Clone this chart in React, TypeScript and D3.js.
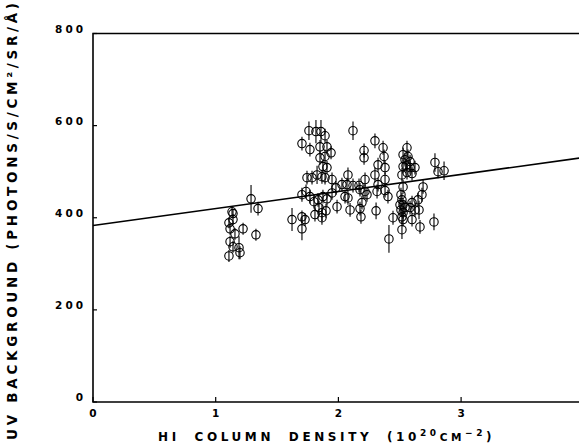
import React, { useEffect, useRef } from 'react';
import * as d3 from 'd3';

// HI column density (10^20 cm^-2)
const hiDensity = [
  1.288, 1.345, 1.133, 1.141, 1.141, 1.108, 1.117, 1.157, 1.223, 1.328, 1.117, 1.141, 1.19, 1.198, 1.108,
  1.622, 1.703, 1.728, 1.703, 1.703, 1.76, 1.817, 1.858, 1.891, 2.119, 1.768, 1.85, 1.907, 1.94, 1.85,
  1.891, 1.874, 1.907, 2.209, 2.209, 2.298, 2.364, 2.372, 2.323, 2.38, 2.078, 1.744, 1.785, 1.826, 1.866,
  1.891, 1.948, 2.029, 2.07, 2.119, 2.168, 2.217, 2.298, 2.38, 2.323, 1.703, 1.736, 1.768, 1.801, 1.834,
  1.874, 1.907, 1.948, 1.98, 2.054, 2.078, 2.192, 2.217, 2.233, 2.315, 2.38, 2.404, 1.842, 1.866, 1.899,
  1.809, 1.866, 1.989, 2.095, 2.176, 2.184, 2.307,
  2.559, 2.527, 2.567, 2.543, 2.584, 2.551, 2.584, 2.527, 2.624, 2.518, 2.559, 2.6, 2.787, 2.812, 2.861,
  2.527, 2.51, 2.518, 2.527, 2.51, 2.527, 2.518, 2.527, 2.502, 2.543, 2.518, 2.6, 2.584, 2.624, 2.657,
  2.69, 2.681, 2.649, 2.445, 2.6, 2.665, 2.779, 2.412, 2.176,
];

// UV background (photons/s/cm2/sr/A)
const uvBackground = [
  441, 420, 413, 409, 396, 389, 376, 365, 376, 363, 348, 337, 335, 324, 317,
  396, 402, 396, 376, 561, 589, 587, 587, 578, 589, 548, 554, 554, 541, 530,
  533, 511, 509, 546, 530, 567, 552, 533, 515, 509, 493, 487, 487, 493, 489,
  487, 483, 472, 472, 470, 470, 483, 493, 483, 472, 450, 457, 446, 435, 439,
  446, 441, 454, 465, 446, 443, 433, 457, 450, 457, 459, 446, 422, 411, 415,
  407, 400, 424, 417, 420, 402, 415,
  552, 537, 533, 526, 522, 513, 509, 511, 509, 493, 498, 496, 520, 500, 502,
  467, 450, 439, 428, 417, 411, 402, 396, 428, 422, 374, 433, 422, 417, 417,
  467, 450, 439, 400, 396, 380, 391, 354, 461,
];

// half-length of each error bar, same units
const uvError = [
  30, 15, 10, 10, 12, 12, 13, 13, 13, 13, 13, 13, 25, 14, 13,
  25, 14, 14, 25, 15, 20, 25, 25, 15, 20, 15, 15, 15, 14, 15,
  15, 14, 14, 15, 15, 16, 15, 15, 15, 15, 16, 15, 15, 20, 15,
  15, 15, 15, 15, 15, 15, 15, 16, 15, 15, 15, 15, 15, 15, 15,
  15, 15, 15, 15, 15, 15, 15, 15, 15, 15, 15, 15, 15, 18, 15,
  15, 15, 15, 15, 15, 15, 18,
  15, 15, 15, 15, 15, 15, 15, 15, 15, 15, 15, 15, 20, 14, 20,
  15, 15, 15, 15, 15, 15, 15, 15, 15, 15, 20, 15, 15, 15, 20,
  15, 15, 15, 15, 15, 15, 18, 30, 15,
];

const xTicks = [0, 1, 2, 3, 4];
const yTicks = [0, 200, 400, 600, 800];

// least squares fit drawn across the plot
const fitIntercept = 383;
const fitSlope = 37;

const App = () => {
  const svgRef = useRef<SVGSVGElement>(null);
  const width = 579;
  const height = 444;

  useEffect(() => {
    const svg = d3.select(svgRef.current);
    svg.selectAll('*').remove();

    const left = 93;
    const top = 33.5;
    const bottom = 402;

    const x = d3.scaleLinear().domain([0, 4]).range([left, left + 4 * 122.7]);
    const y = d3.scaleLinear().domain([0, 800]).range([bottom, top]);

    const font = "'DejaVu Sans', sans-serif";

    // frame: left, bottom, top
    svg.append('path')
      .attr('d', `M${x(4)},${y(800)}H${x(0)}V${y(0)}H${x(4)}`)
      .attr('fill', 'none')
      .attr('stroke', '#000')
      .attr('stroke-width', 1.6);

    // ticks point inward
    svg.selectAll('.xtick')
      .data(xTicks)
      .enter()
      .append('line')
      .attr('x1', d => x(d))
      .attr('x2', d => x(d))
      .attr('y1', y(0))
      .attr('y2', y(0) - 5)
      .attr('stroke', '#000')
      .attr('stroke-width', 1.2);

    svg.selectAll('.ytick')
      .data(yTicks)
      .enter()
      .append('line')
      .attr('x1', x(0))
      .attr('x2', x(0) + 4)
      .attr('y1', d => y(d))
      .attr('y2', d => y(d))
      .attr('stroke', '#000')
      .attr('stroke-width', 1.2);

    svg.selectAll('.xlab')
      .data(xTicks.slice(0, 4))
      .enter()
      .append('text')
      .attr('x', d => x(d))
      .attr('y', y(0) + 15)
      .attr('text-anchor', 'middle')
      .attr('font-family', font)
      .attr('font-weight', 'bold')
      .attr('font-size', 10.5)
      .text(d => d);

    svg.selectAll('.ylab')
      .data(yTicks)
      .enter()
      .append('text')
      .attr('x', x(0) - 7)
      .attr('y', d => y(d) - 1)
      .attr('text-anchor', 'end')
      .attr('font-family', font)
      .attr('font-weight', 'bold')
      .attr('font-size', 10.5)
      .attr('letter-spacing', 3)
      .text(d => d);

    // fit line
    const fit = d3.line<number>()
      .x(d => x(d))
      .y(d => y(fitIntercept + fitSlope * d));
    svg.append('path')
      .datum([0, 4])
      .attr('d', fit)
      .attr('fill', 'none')
      .attr('stroke', '#000')
      .attr('stroke-width', 1.6);

    const pts = hiDensity.map((h, i) => ({ h, uv: uvBackground[i], e: uvError[i] }));
    const g = svg.append('g');

    g.selectAll('.err')
      .data(pts)
      .enter()
      .append('line')
      .attr('x1', d => x(d.h))
      .attr('x2', d => x(d.h))
      .attr('y1', d => y(d.uv - d.e))
      .attr('y2', d => y(d.uv + d.e))
      .attr('stroke', '#000')
      .attr('stroke-width', 1.1);

    g.selectAll('circle')
      .data(pts)
      .enter()
      .append('circle')
      .attr('cx', d => x(d.h))
      .attr('cy', d => y(d.uv))
      .attr('r', 4.2)
      .attr('fill', 'none')
      .attr('stroke', '#000')
      .attr('stroke-width', 1.1);

    // axis titles
    const xt = svg.append('text')
      .attr('x', 158)
      .attr('y', 441)
      .attr('font-family', font)
      .attr('font-weight', 'bold')
      .attr('font-size', 12)
      .attr('letter-spacing', 3.6)
      .attr('word-spacing', 7);
    xt.append('tspan').text('HI COLUMN DENSITY (10');
    xt.append('tspan').attr('font-size', 9).attr('dy', -5).text('20');
    xt.append('tspan').attr('font-size', 10.5).attr('dy', 5).text('CM');
    xt.append('tspan').attr('font-size', 9).attr('dy', -5).text('\u22122');
    xt.append('tspan').attr('dy', 5).text(')');

    svg.append('text')
      .attr('transform', 'translate(17,440) rotate(-90)')
      .attr('font-family', font)
      .attr('font-weight', 'bold')
      .attr('font-size', 13.5)
      .attr('textLength', 437)
      .attr('lengthAdjust', 'spacing')
      .text('UV BACKGROUND (PHOTONS/S/CM\u00B2/SR/\u00C5)');
  }, []);

  return (
    <svg
      ref={svgRef}
      width={width}
      height={height}
      style={{ position: 'absolute', left: 0, top: 0, background: '#fff' }}
    />
  );
};

export default App;
